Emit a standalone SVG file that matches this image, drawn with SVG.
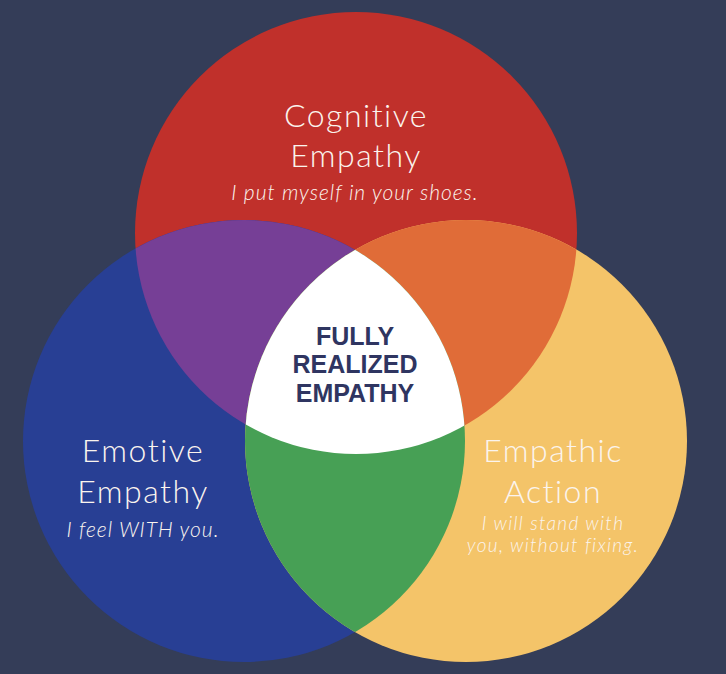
<svg xmlns="http://www.w3.org/2000/svg" width="726" height="674" viewBox="0 0 726 674">
<style>
.t{font-family:Lato,"Liberation Sans",sans-serif;font-weight:300;fill:#fbf4ee;text-anchor:middle}
.h{font-size:32px;letter-spacing:1.5px}
.s{font-size:21px;font-style:italic;letter-spacing:1px}
.a{font-size:19px;font-style:italic;letter-spacing:1.3px}
.c{font-family:"Liberation Sans",Arial,sans-serif;font-weight:bold;font-size:25px;fill:#2f3561;text-anchor:middle}
</style>
<defs>
<clipPath id="cr"><circle cx="356" cy="233" r="221"/></clipPath>
<clipPath id="cb"><circle cx="244" cy="441" r="221"/></clipPath>
</defs>
<rect width="726" height="674" fill="#343d58"/>
<g id="circles">
<circle id="red" cx="356" cy="233" r="221" fill="#c0302b"/>
<circle id="blue" cx="244" cy="441" r="221" fill="#283f94"/>
<circle id="yellow" cx="466" cy="441" r="221" fill="#f4c469"/>
<circle id="purple" cx="244" cy="441" r="221" fill="#763f96" clip-path="url(#cr)"/>
<circle id="orange" cx="466" cy="441" r="221" fill="#e06c38" clip-path="url(#cr)"/>
<circle id="green" cx="466" cy="441" r="221" fill="#47a055" clip-path="url(#cb)"/>
<g clip-path="url(#cr)"><circle id="white" cx="466" cy="441" r="221" fill="#ffffff" clip-path="url(#cb)"/></g>
</g>
<g id="cognitive">
<text class="t h" x="356" y="127">Cognitive</text>
<text class="t h" x="356" y="167">Empathy</text>
<text class="t s" x="355" y="200">I put myself in your shoes.</text>
</g>
<g id="emotive">
<text class="t h" x="143" y="462">Emotive</text>
<text class="t h" x="143" y="503">Empathy</text>
<text class="t s" x="143" y="537">I feel WITH you.</text>
</g>
<g id="action">
<text class="t h" x="553" y="462">Empathic</text>
<text class="t h" x="553" y="503">Action</text>
<text class="t a" x="553" y="530">I will stand with</text>
<text class="t a" x="553" y="552">you, without fixing.</text>
</g>
<g id="center">
<text class="c" x="355" y="345">FULLY</text>
<text class="c" x="355" y="373">REALIZED</text>
<text class="c" x="355" y="402">EMPATHY</text>
</g>
</svg>
